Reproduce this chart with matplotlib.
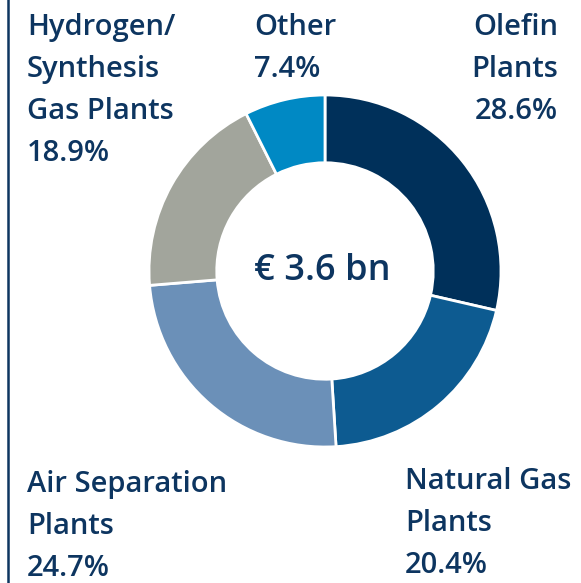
import matplotlib.pyplot as plt

labels = ["Olefin\nPlants", "Natural Gas\nPlants", "Air Separation\nPlants",
          "Hydrogen/\nSynthesis\nGas Plants", "Other"]
shares = [28.6, 20.4, 24.7, 18.9, 7.4]
colors = ["#00305a", "#0d5b91", "#6b90b8", "#a2a59c", "#0089c4"]
total_text = "€ 3.6 bn"

navy = "#0d3560"
W, H = 581, 583

fig = plt.figure(figsize=(W / 100, H / 100), dpi=100)
ax = fig.add_axes([0, 0, 1, 1])

cx, cy, r = 325, H - 271, 176
ax.pie(shares, colors=colors, startangle=90, counterclock=False,
       center=(cx, cy), radius=r, frame=True,
       wedgeprops=dict(width=r * 0.385, edgecolor="white", linewidth=2))
ax.set_xlim(0, W)
ax.set_ylim(0, H)
ax.set_aspect("equal")
ax.axis("off")

ax.text(322, H - 271, total_text, ha="center", va="center", fontsize=26,
        color=navy, family="Open Sans", weight="semibold")

font = dict(fontsize=21, color=navy, family="Open Sans", weight="semibold")
step = 42


def block(x, y0, lines, ha="left"):
    for i, s in enumerate(lines):
        ax.text(x, H - (y0 + i * step), s, ha=ha, va="baseline", **font)


pct = [f"{v:.1f}%" for v in shares]
block(558, 35, labels[0].split("\n") + [pct[0]], ha="right")
block(405, 489, labels[1].split("\n") + [pct[1]])
block(27, 492, labels[2].split("\n") + [pct[2]])
block(27, 35, labels[3].split("\n") + [pct[3]])
block(254, 35, labels[4].split("\n") + [pct[4]])

ax.plot([8, 8], [0, H], color=navy, lw=1.8)

fig.savefig("out.png", dpi=100)
